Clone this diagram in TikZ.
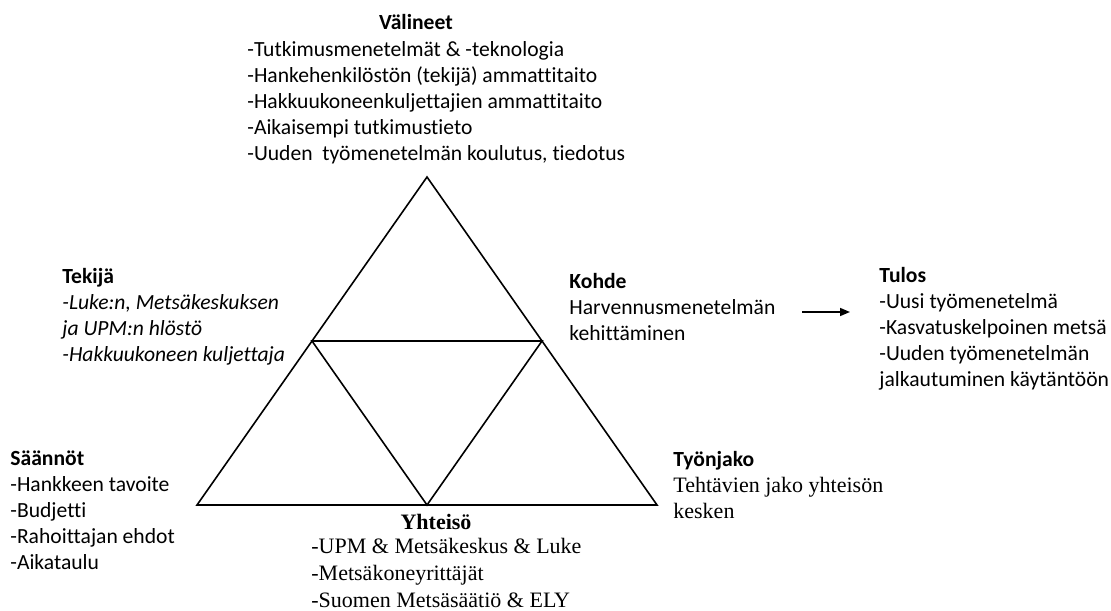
\documentclass[tikz,border=0pt]{standalone}
\usepackage{fontspec}
\setmainfont{Carlito}[Ligatures=NoCommon]
\newfontfamily\tnr{Liberation Serif}
\usetikzlibrary{arrows.meta}
\newcommand{\tnrtext}{\fontsize{11}{13.5}\selectfont\tnr}
\tikzset{
    blk/.style={anchor=base west, align=left, inner sep=0pt, font=\fontsize{10.8}{13}\selectfont},
    serifblk/.style={blk, font=\tnrtext},
    tri/.style={line width=0.8pt, black, line join=miter},
    arr/.style={-{Triangle[length=5pt, width=4pt]}, line width=0.8pt}
}

\begin{document}
\begin{tikzpicture}[x=0.5pt, y=0.5pt]
        \useasboundingbox (0,0) rectangle (1111,610);

        % triangle corners and side midpoints
        \coordinate (top) at (427,433);
        \coordinate (bl) at (197,105);
        \coordinate (br) at (657,105);
        \coordinate (ml) at (312,269);
        \coordinate (mr) at (542,269);
        \coordinate (mb) at (427,105);
        \draw[tri] (top)--(bl)--(br)--cycle;
        \draw[tri] (ml)--(mr)--(mb)--cycle;

        % multi-line blocks sit on the baseline of their last line
        \node[blk, anchor=base] (valtit) at (416,580.5) {\textbf{Välineet}};
        \node[blk] (val) at (247,449.5) {-Tutkimusmenetelmät \& -teknologia\\-Hankehenkilöstön (tekijä) ammattitaito\\-Hakkuukoneenkuljettajien ammattitaito\\-Aikaisempi tutkimustieto\\-Uuden\ \ työmenetelmän koulutus, tiedotus};

        \node[blk] (tek) at (62,248.5) {\textbf{Tekijä}\\\textit{-Luke:n, Metsäkeskuksen}\\\textit{ja UPM:n hlöstö}\\\textit{-Hakkuukoneen kuljettaja}};

        \node[blk] (saa) at (10,40.5) {\textbf{Säännöt}\\-Hankkeen tavoite\\-Budjetti\\-Rahoittajan ehdot\\-Aikataulu};

        \node[serifblk, anchor=base] (yhttit) at (436,81) {\textbf{Yhteisö}};
        \node[serifblk] (yht) at (311,3) {-UPM \& Metsäkeskus \& Luke\\-Metsäkoneyrittäjät\\-Suomen Metsäsäätiö \& ELY};

        \node[blk] (koh) at (569,269.5) {\textbf{Kohde}\\Harvennusmenetelmän\\kehittäminen};

        \node[blk] (tyo) at (673,92) {\textbf{Työnjako}\\{\tnrtext Tehtävien jako yhteisön}\\{\tnrtext kesken}};

        \node[blk] (tul) at (879,223.5) {\textbf{Tulos}\\-Uusi työmenetelmä\\-Kasvatuskelpoinen metsä\\-Uuden työmenetelmän\\jalkautuminen käytäntöön};

        \coordinate (arrs) at (802,298);
        \coordinate (arre) at (850,298);
        \draw[arr] (arrs)--(arre);
    \end{tikzpicture}
\end{document}
